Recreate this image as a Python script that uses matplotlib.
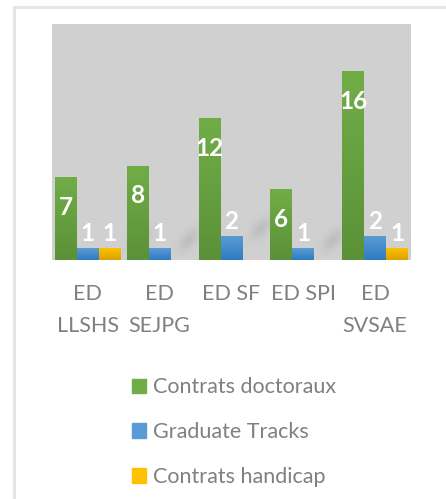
"""
Doctoral contracts per doctoral school, grouped bar chart.
Run:  python plot.py
"""

import numpy as np
import matplotlib.pyplot as plt
from matplotlib.colors import LinearSegmentedColormap
from matplotlib.patches import Rectangle
from matplotlib.lines import Line2D

# data
schools = ["ED\nLLSHS", "ED\nSEJPG", "ED SF", "ED SPI", "ED\nSVSAE"]
series = ["Contrats doctoraux", "Graduate Tracks", "Contrats handicap"]
contrats_doctoraux = [7, 8, 12, 6, 16]
graduate_tracks = [1, 1, 2, 1, 2]
contrats_handicap = [1, 0, 0, 0, 1]

# (top colour, bottom colour) for the gradient fill
colors = [("#70AD47", "#5B9138"), ("#5B9BD5", "#2F7BC2"), ("#FFC000", "#D9A200")]
text_gray = "#808080"

plt.rcParams["font.family"] = ["Lato", "DejaVu Sans"]

fig = plt.figure(figsize=(4.46, 4.99), dpi=100)
ax = fig.add_axes([52 / 446, 1 - 260 / 499, 359 / 446, 236 / 499])
ax.set_facecolor("#D0D0D0")

x = np.arange(len(schools))
w = 0.306
values = [contrats_doctoraux, graduate_tracks, contrats_handicap]

# soft diagonal shadow blob (Excel-style), alpha only
yy, xx = np.mgrid[-1:1:48j, -1:1:48j]
u = (xx + yy) / np.sqrt(2)        # along the up-right diagonal
v_ = (xx - yy) / np.sqrt(2)
blob = np.exp(-(u / 0.6) ** 2 - (v_ / 0.32) ** 2)
shadow = np.zeros((48, 48, 4))
shadow[..., :3] = 0.5
shadow[..., 3] = 0.22 * blob

last_bar = {}
for i, (vals, (c_top, c_bot)) in enumerate(zip(values, colors)):
    bars = ax.bar(x + (i - 1) * w, vals, w, color=c_top, zorder=2)
    cmap = LinearSegmentedColormap.from_list("g%d" % i, [c_bot, c_top])
    for j, (b, v) in enumerate(zip(bars, vals)):
        if v == 0:
            b.set_visible(False)
            continue
        last_bar[j] = (b, v, i)
        # gradient fill clipped to the bar
        grad = np.linspace(0, 1, 64).reshape(-1, 1)
        im = ax.imshow(grad, cmap=cmap, origin="lower", aspect="auto",
                       extent=(b.get_x(), b.get_x() + b.get_width(), 0, v),
                       zorder=3)
        im.set_clip_path(b)
        # value label
        if i == 0:
            off = -30
        else:
            off = 15
        ax.annotate(str(v), (b.get_x() + b.get_width() / 2, v),
                    xytext=(0, off / 1.389), textcoords="offset points",
                    ha="center", va="center", color="white",
                    fontsize=17.5, fontweight="bold", zorder=5)

# shadows next to the right-most small bar of each group
for j, (b, v, i) in last_bar.items():
    if i == 0:
        continue
    x0 = b.get_x() + b.get_width()
    ax.imshow(shadow, origin="lower", aspect="auto",
              extent=(x0 - 0.05, x0 + 0.55, v - 1.2, v + 2.6), zorder=1)

ax.set_xlim(-0.5, len(schools) - 0.5)
ax.set_ylim(0, 20)
ax.set_xticks(x)
ax.set_xticklabels(schools, fontsize=15.5, color=text_gray, linespacing=1.75)
ax.tick_params(axis="x", length=0, pad=17)
ax.set_yticks([])
for s in ax.spines.values():
    s.set_visible(False)

# legend
handles = [Rectangle((0, 0), 1, 1, color=c[0]) for c in colors]
leg = fig.legend(handles, series, loc="upper left",
                 bbox_to_anchor=(113 / 446, 1 - 358 / 499),
                 frameon=False, fontsize=15.5, labelcolor=text_gray,
                 handlelength=0.65, handleheight=0.65, handletextpad=0.3,
                 labelspacing=1.15)

# outer frame (light gray, open at right / bottom)
fig.add_artist(Line2D([14 / 446, 14 / 446], [0, 1 - 7 / 499],
                      transform=fig.transFigure, color="#E4E4E4", lw=2))
fig.add_artist(Line2D([14 / 446, 1], [1 - 7 / 499, 1 - 7 / 499],
                      transform=fig.transFigure, color="#E4E4E4", lw=2))

plt.savefig("out.png", dpi=100)
